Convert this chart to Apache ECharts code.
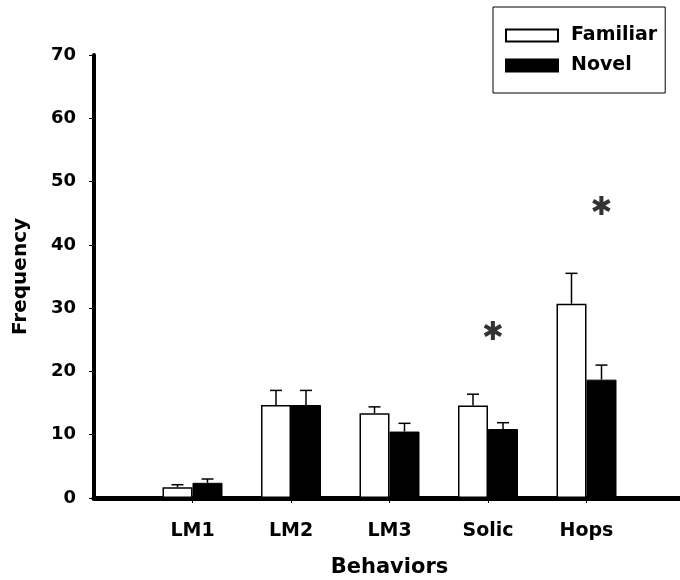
<!DOCTYPE html>
<html>
<head>
<meta charset="utf-8">
<script src="https://cdn.jsdelivr.net/npm/echarts@6/dist/echarts.min.js"></script>
<style>
html,body{margin:0;padding:0;background:#fff;}
#chart{width:680px;height:580px;}
</style>
</head>
<body>
<div id="chart"></div>
<script>
var categories = ['LM1', 'LM2', 'LM3', 'Solic', 'Hops'];
var familiar = [1.7, 14.7, 13.4, 14.6, 30.7];
var novel = [2.4, 14.7, 10.5, 10.9, 18.7];
var familiarErrTop = [2.1, 17.0, 14.4, 16.4, 35.5];
var novelErrTop = [3.0, 17.0, 11.8, 11.9, 21.0];
var starCats = ['Solic', 'Hops'];
var starValues = [26.1, 45.8];
var yTicks = [0, 10, 20, 30, 40, 50, 60, 70];

var FONT = 'DejaVu Sans';
var axisCats = [''].concat(categories).concat([' ']);
var BAR_W = 30;

function pairs(vals) { return categories.map(function (c, i) { return [c, vals[i]]; }); }
function errPairs(vals, tops) { return categories.map(function (c, i) { return [c, vals[i], tops[i]]; }); }

function errRender(offset) {
  return function (params, api) {
    var p0 = api.coord([api.value(0), api.value(1)]);
    var p1 = api.coord([api.value(0), api.value(2)]);
    var x = p0[0] + offset;
    var cap = 6;
    var st = { stroke: '#000', lineWidth: 1.5 };
    return {
      type: 'group',
      children: [
        { type: 'line', shape: { x1: x, y1: p0[1], x2: x, y2: p1[1] }, style: st },
        { type: 'line', shape: { x1: x - cap, y1: p1[1], x2: x + cap, y2: p1[1] }, style: st }
      ]
    };
  };
}

var starOffsets = [[5, 0], [15, 0]];
var starData = starCats.map(function (c, i) {
  return { value: [c, starValues[i]], label: { offset: starOffsets[i] } };
});

var chart = echarts.init(document.getElementById('chart'), null, { renderer: 'canvas' });
chart.setOption({
  backgroundColor: '#fff',
  animation: false,
  textStyle: { fontFamily: FONT },
  legend: {
    data: ['Familiar', 'Novel'],
    orient: 'vertical',
    left: 493, top: 7,
    padding: [19, 8, 18, 12],
    itemGap: 11,
    itemWidth: 52, itemHeight: 12,
    icon: 'rect',
    borderColor: '#000', borderWidth: 1,
    textStyle: { fontFamily: FONT, fontWeight: 'bold', fontSize: 19, color: '#000', padding: [0, 0, 0, 8] }
  },
  grid: { left: 94, top: 55, bottom: 82, right: -5, containLabel: false, outerBoundsMode: 'none' },
  xAxis: {
    type: 'category',
    data: axisCats,
    boundaryGap: false,
    name: 'Behaviors',
    nameLocation: 'middle',
    nameGap: 59,
    nameTextStyle: { fontFamily: FONT, fontWeight: 'bold', fontSize: 21, color: '#000' },
    axisLine: { lineStyle: { color: '#000', width: 5 } },
    axisTick: { show: true, length: 5, lineStyle: { color: '#000', width: 1 },
      interval: function (i) { return i > 0 && i < axisCats.length - 1; } },
    axisLabel: { margin: 24, fontFamily: FONT, fontWeight: 'bold', fontSize: 19, color: '#000', interval: 0 },
    splitLine: { show: false }
  },
  yAxis: {
    type: 'value',
    min: yTicks[0], max: yTicks[yTicks.length - 1], interval: 10,
    name: 'Frequency',
    nameLocation: 'middle',
    nameGap: 63,
    nameTextStyle: { fontFamily: FONT, fontWeight: 'bold', fontSize: 20, color: '#000' },
    axisLine: { show: true, lineStyle: { color: '#000', width: 4 } },
    axisTick: { show: true, length: 5, lineStyle: { color: '#000', width: 1 } },
    axisLabel: { margin: 18, fontFamily: FONT, fontWeight: 'bold', fontSize: 18, color: '#000' },
    splitLine: { show: false }
  },
  series: [
    {
      name: 'Familiar', type: 'bar', data: pairs(familiar),
      barWidth: BAR_W, barGap: '0%',
      itemStyle: { color: '#fff', borderColor: '#000', borderWidth: 1.5 },
      z: 2
    },
    {
      name: 'Novel', type: 'bar', data: pairs(novel),
      barWidth: BAR_W, barGap: '0%',
      itemStyle: { color: '#000', borderColor: '#000', borderWidth: 1 },
      z: 2
    },
    {
      name: 'FamiliarErr', type: 'custom', data: errPairs(familiar, familiarErrTop),
      renderItem: errRender(-BAR_W / 2), z: 3, silent: true
    },
    {
      name: 'NovelErr', type: 'custom', data: errPairs(novel, novelErrTop),
      renderItem: errRender(BAR_W / 2), z: 3, silent: true
    },
    {
      name: 'Stars', type: 'scatter', data: starData,
      symbolSize: 0,
      itemStyle: { color: '#000' },
      label: { show: true, position: 'inside', formatter: '\u2731', fontFamily: FONT, fontWeight: 'bold', fontSize: 26, color: '#000', textBorderWidth: 0 },
      z: 4, silent: true
    }
  ]
});
</script>
</body>
</html>
